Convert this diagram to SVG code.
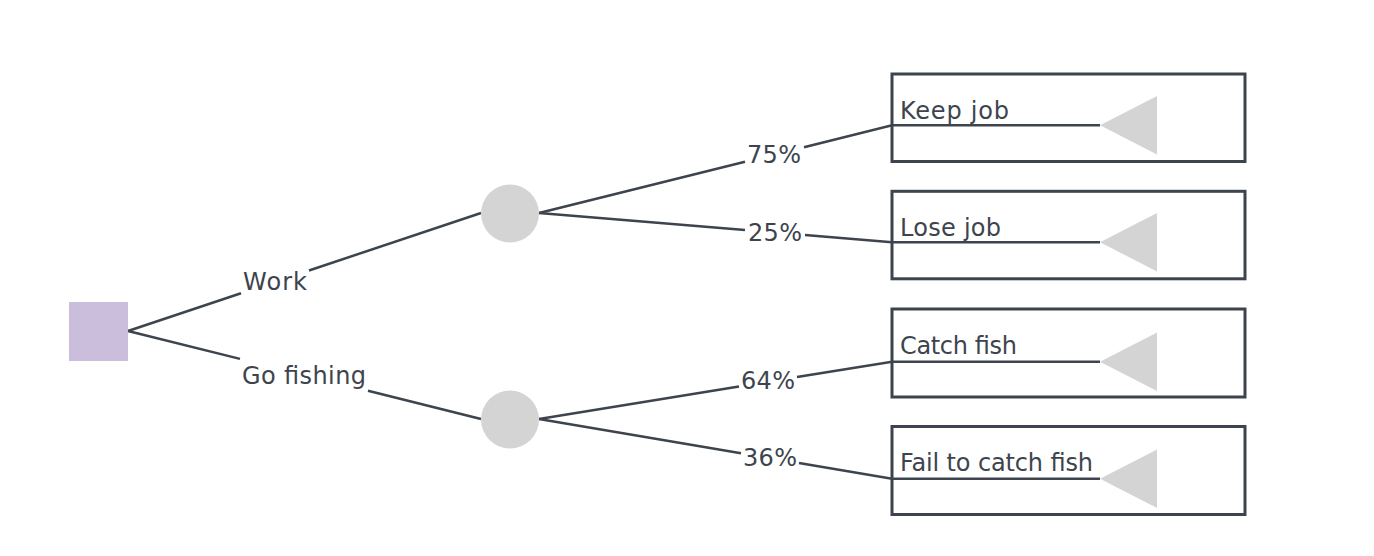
<svg xmlns="http://www.w3.org/2000/svg" width="1374" height="556" viewBox="0 0 1374 556">
<style>
.ln{fill:none;stroke:#3d444d;stroke-width:2.5;stroke-linecap:butt}
.box{fill:none;stroke:#3d444d;stroke-width:3}
.tri{fill:#d4d4d4}
.chance{fill:#d4d4d4}
.t{font-family:"DejaVu Sans","Liberation Sans",sans-serif;font-size:24px;fill:#3d444d}
</style>
<rect width="1374" height="556" fill="#ffffff"/>
<g id="connectors">
<path class="ln" d="M128,331 L241,293.2 M309,270.5 L481,213"/>
<path class="ln" d="M128,331 L240,358.9 M368,390.8 L481,419"/>
<path class="ln" d="M539,213 L745,161.8 M804,147.2 L892,125.3 L1100,125.3"/>
<path class="ln" d="M539,213 L745,230.1 M805,235.1 L892,242.3 L1100,242.3"/>
<path class="ln" d="M539,419 L739,386.5 M797,377.1 L892,361.7 L1100,361.7"/>
<path class="ln" d="M539,419 L741,453.2 M799,463 L892,478.7 L1100,478.7"/>
</g>
<g id="labels">
<text class="t" x="243" y="290" textLength="64">Work</text>
<text class="t" x="242" y="384" textLength="124">Go fishing</text>
<text class="t" x="747" y="163" textLength="54">75%</text>
<text class="t" x="748" y="241" textLength="54">25%</text>
<text class="t" x="741" y="389" textLength="54">64%</text>
<text class="t" x="743" y="466" textLength="54">36%</text>
</g>
<g id="decision">
<rect x="69" y="302" width="59" height="59" fill="#cbbedc"/>
</g>
<g id="chance-work">
<circle class="chance" cx="510" cy="213.5" r="29"/>
</g>
<g id="chance-fishing">
<circle class="chance" cx="510" cy="419.5" r="29"/>
</g>
<g id="keep-job">
<rect class="box" x="892" y="74" width="353" height="87.5"/>
<polygon class="tri" points="1100,125.3 1157,96 1157,154.5"/>
<text class="t" x="900" y="118.5" textLength="109">Keep job</text>
</g>
<g id="lose-job">
<rect class="box" x="892" y="191.3" width="353" height="87.5"/>
<polygon class="tri" points="1100,242.3 1157,213 1157,271.5"/>
<text class="t" x="900" y="236" textLength="101">Lose job</text>
</g>
<g id="catch-fish">
<rect class="box" x="892" y="309" width="353" height="88"/>
<polygon class="tri" points="1100,361.7 1157,332.5 1157,391"/>
<text class="t" x="900" y="354" textLength="117">Catch fish</text>
</g>
<g id="fail-catch-fish">
<rect class="box" x="892" y="426.5" width="353" height="88"/>
<polygon class="tri" points="1100,478.7 1157,449.5 1157,508"/>
<text class="t" x="900" y="471" textLength="193">Fail to catch fish</text>
</g>
</svg>
